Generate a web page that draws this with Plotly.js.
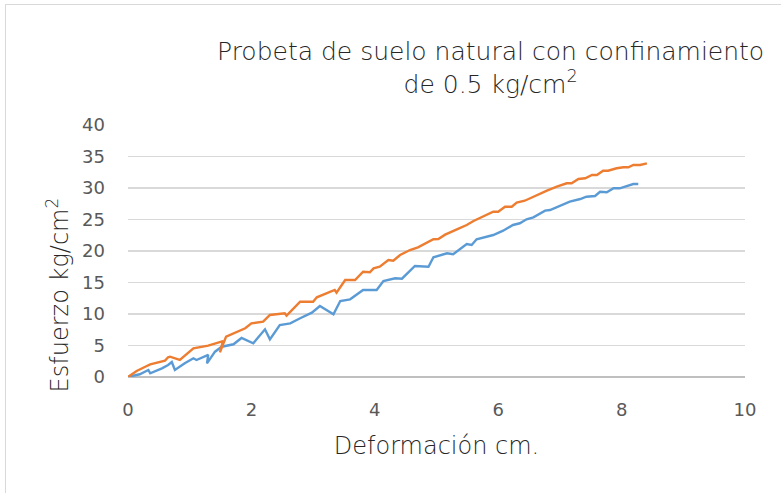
<!DOCTYPE html>
<html>
<head>
<meta charset="utf-8">
<script src="https://cdn.plot.ly/plotly-3.0.1.min.js"></script>
<style>
html,body{margin:0;padding:0;background:#fff;}
#wrap{position:relative;width:781px;height:493px;overflow:hidden;}
#chart{width:781px;height:493px;}
#frame{position:absolute;left:5px;top:4px;width:800px;height:520px;border:1.5px solid #D9D9D9;box-sizing:border-box;pointer-events:none;}
</style>
</head>
<body>
<div id="wrap"><div id="chart"></div><div id="frame"></div></div>
<script>
// Series 1 (orange)
const xOrange = [0,0.14,0.28,0.36,0.60,0.65,0.68,0.84,1.06,1.30,1.54,1.49,1.59,1.79,1.90,2.00,2.19,2.30,2.54,2.57,2.79,3.00,3.03,3.06,3.35,3.38,3.52,3.68,3.81,3.92,3.98,4.08,4.22,4.30,4.41,4.57,4.70,4.84,4.95,5.03,5.14,5.33,5.49,5.60,5.81,5.92,6.00,6.11,6.22,6.30,6.43,6.57,6.68,6.79,6.95,7.11,7.19,7.30,7.41,7.52,7.60,7.70,7.78,7.92,8.03,8.11,8.19,8.30,8.41];
const yOrange = [0,0.95,1.63,2.00,2.59,3.13,3.22,2.70,4.56,4.97,5.71,3.92,6.40,7.19,7.73,8.52,8.78,9.84,10.11,9.73,11.95,11.95,12.22,12.65,13.81,13.38,15.40,15.40,16.71,16.62,17.25,17.51,18.57,18.46,19.37,20.16,20.59,21.32,21.86,21.90,22.59,23.44,24.13,24.76,25.71,26.24,26.24,27.03,27.03,27.67,27.98,28.62,29.00,29.57,30.21,30.75,30.75,31.43,31.54,32.06,32.06,32.75,32.75,33.13,33.29,33.29,33.65,33.65,33.92];
// Series 2 (blue)
const xBlue = [0,0.19,0.33,0.36,0.55,0.65,0.71,0.76,0.92,1.06,1.11,1.30,1.28,1.41,1.52,1.71,1.84,2.03,2.22,2.30,2.46,2.63,2.79,2.98,3.11,3.33,3.44,3.60,3.81,4.03,4.14,4.33,4.44,4.65,4.87,4.95,5.17,5.27,5.49,5.57,5.65,5.81,5.92,6.08,6.24,6.35,6.46,6.57,6.76,6.84,7.00,7.16,7.33,7.43,7.57,7.65,7.76,7.87,7.97,8.11,8.19,8.27];
const yBlue = [0,0.43,1.11,0.59,1.38,1.90,2.38,1.11,2.17,2.97,2.70,3.50,2.17,4.02,4.81,5.19,6.19,5.35,7.57,5.98,8.25,8.52,9.32,10.21,11.27,9.95,12.06,12.33,13.81,13.81,15.24,15.67,15.60,17.62,17.51,19.00,19.63,19.48,21.11,20.95,21.86,22.27,22.54,23.22,24.13,24.40,25.03,25.35,26.40,26.51,27.19,27.83,28.25,28.62,28.73,29.41,29.32,29.95,29.95,30.37,30.63,30.63];
const xTicks = [0,2,4,6,8,10];
const yTicks = [0,5,10,15,20,25,30,35,40];
const titleText = 'Probeta de suelo natural con confinamiento<br>de 0.5 kg/cm<sup>2</sup>';

const FONT = '"DejaVu Sans", sans-serif';
const traces = [
  {x: xBlue, y: yBlue, type: 'scatter', mode: 'lines', line: {color: '#5B9BD5', width: 2.4}, showlegend: false},
  {x: xOrange, y: yOrange, type: 'scatter', mode: 'lines', line: {color: '#ED7D31', width: 2.4}, showlegend: false}
];
const layout = {
  width: 781, height: 493,
  margin: {l: 128, r: 36, t: 125, b: 116, pad: 0},
  paper_bgcolor: '#ffffff', plot_bgcolor: '#ffffff',
  font: {family: FONT, color: '#595959', size: 18},
  xaxis: {range: [0, 10], tickvals: xTicks, ticks: '', showgrid: false, zeroline: false, showline: false,
          tickfont: {family: FONT, size: 18, color: '#595959'}, ticklabelstandoff: 20, fixedrange: true,
          title: {text: 'Deformación cm.', font: {family: FONT, size: 24, color: '#262626', weight: 300}, standoff: 18}},
  yaxis: {range: [0, 40], tickvals: yTicks, ticks: '', showgrid: true, gridcolor: '#D9D9D9', gridwidth: 1.3,
          zeroline: true, zerolinecolor: '#BFBFBF', zerolinewidth: 1.3, showline: false,
          tickfont: {family: FONT, size: 18, color: '#595959'}, ticklabelstandoff: 22, fixedrange: true},
  annotations: [
    {text: titleText, xref: 'paper', yref: 'paper', x: 0.587, y: 1.226, showarrow: false,
     xanchor: 'center', yanchor: 'middle', align: 'center', font: {family: FONT, size: 25, color: '#262626', weight: 300}},
    {text: 'Esfuerzo kg/cm<sup>2</sup>', xref: 'paper', yref: 'paper', x: -0.113, y: 0.325, textangle: -90,
     showarrow: false, xanchor: 'center', yanchor: 'middle', font: {family: FONT, size: 24, color: '#262626', weight: 300}}
  ]
};
Plotly.newPlot('chart', traces, layout, {displayModeBar: false, staticPlot: true});
</script>
</body>
</html>
